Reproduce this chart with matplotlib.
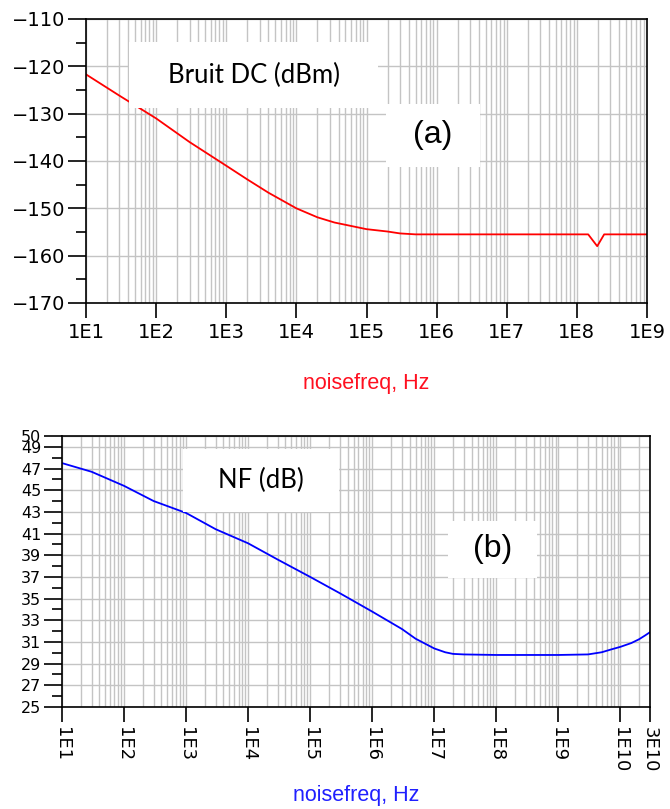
import matplotlib
matplotlib.use('Agg')
import matplotlib.pyplot as plt
from matplotlib.ticker import LogLocator, MultipleLocator, FixedLocator, NullFormatter
from matplotlib.patches import Rectangle

# data (a): bruit DC en dBm
freq_a = [1e1, 3e1, 1e2, 3e2, 1e3, 2e3, 4e3, 1e4, 2e4, 3.5e4, 1e5, 2e5, 3e5, 5e5, 1e6, 1e7,
          1.45e8, 1.95e8, 2.45e8, 1e9]
bruit_dc = [-121.7, -126.2, -131.0, -136.0, -141.0, -143.9, -146.7, -150.0, -151.9, -153.0, -154.4,
            -154.9, -155.3, -155.5, -155.5, -155.5, -155.5, -158.0, -155.5, -155.5]

# data (b): NF en dB
freq_b = [1e1, 3e1, 1e2, 3e2, 1e3, 3e3, 1e4, 3e4, 1e5, 3e5, 1e6, 3e6, 5e6, 1e7, 1.5e7, 2e7, 3e7, 1e8,
          1e9, 3e9, 5e9, 7e9, 1e10, 1.5e10, 2e10, 2.5e10, 3e10]
nf = [47.5, 46.7, 45.4, 44.0, 42.9, 41.4, 40.1, 38.6, 37.0, 35.5, 33.8, 32.2, 31.3, 30.4, 30.05, 29.9,
      29.85, 29.8, 29.8, 29.85, 30.05, 30.3, 30.55, 30.9, 31.25, 31.6, 31.9]

xticks_a = [1e1, 1e2, 1e3, 1e4, 1e5, 1e6, 1e7, 1e8, 1e9]
xlabels_a = ['1E1', '1E2', '1E3', '1E4', '1E5', '1E6', '1E7', '1E8', '1E9']
xticks_b = [1e1, 1e2, 1e3, 1e4, 1e5, 1e6, 1e7, 1e8, 1e9, 1e10, 3e10]
xlabels_b = ['1E1', '1E2', '1E3', '1E4', '1E5', '1E6', '1E7', '1E8', '1E9', '1E10', '3E10']
yticks_b = [25, 27, 29, 31, 33, 35, 37, 39, 41, 43, 45, 47, 49, 50]

W, H = 670, 809
fig = plt.figure(figsize=(W / 100, H / 100), dpi=100)


def px(x0, y0, x1, y1):
    """ pixel box -> figure fraction [left, bottom, width, height] """
    return [x0 / W, 1 - y1 / H, (x1 - x0) / W, (y1 - y0) / H]


def style(ax, fs):
    ax.grid(True, which='major', axis='y', color='#c4c4c4', lw=1)
    ax.grid(True, which='both', axis='x', color='#c4c4c4', lw=1)
    ax.set_axisbelow(True)
    for s in ax.spines.values():
        s.set_color('black')
        s.set_linewidth(1.2)
    ax.tick_params(axis='y', which='major', direction='out', length=13, width=1.2, pad=2, labelsize=fs)
    ax.tick_params(axis='y', which='minor', direction='out', length=7, width=1.2)
    ax.tick_params(axis='x', which='major', direction='out', length=11, width=1.2, labelsize=fs)
    ax.tick_params(axis='x', which='minor', length=0)
    ax.xaxis.set_minor_locator(LogLocator(base=10, subs=range(2, 10), numticks=50))
    ax.xaxis.set_minor_formatter(NullFormatter())


# (a)
ax1 = fig.add_axes(px(86, 19, 647, 303))
ax1.plot(freq_a, bruit_dc, color='#ff0000', lw=1.3)
ax1.set_xscale('log')
ax1.set_xlim(1e1, 1e9)
ax1.set_ylim(-170, -110)
style(ax1, 14)
ax1.set_xticks(xticks_a)
ax1.set_xticklabels(xlabels_a)
ax1.yaxis.set_major_locator(MultipleLocator(10))
ax1.yaxis.set_minor_locator(MultipleLocator(5))
ax1.set_xlabel('noisefreq, Hz', color='#ff1020', fontsize=15.5, family='Liberation Sans', labelpad=22)

# (b)
ax2 = fig.add_axes(px(62, 436, 650, 707))
ax2.plot(freq_b, nf, color='#0000ff', lw=1.3)
ax2.set_xscale('log')
ax2.set_xlim(1e1, 3e10)
ax2.set_ylim(25, 50)
style(ax2, 11.5)
ax2.set_xticks(xticks_b)
ax2.set_xticklabels(xlabels_b, rotation=-90, fontsize=13)
ax2.yaxis.set_major_locator(FixedLocator(yticks_b))
ax2.yaxis.set_minor_locator(MultipleLocator(1))
ax2.set_xlabel('noisefreq, Hz', color='#2020ff', fontsize=15.5, family='Liberation Sans', labelpad=9)

# boites de texte
boxes = [
    ((129, 42, 378, 108), 'Bruit DC (dBm)', 'Lato', 18.5),
    ((386, 104, 480, 167), '(a)', 'Liberation Sans', 23),
    ((183, 449, 339, 512), 'NF (dB)', 'Lato', 18.5),
    ((448, 521, 537, 578), '(b)', 'Liberation Sans', 23),
]
for (x0, y0, x1, y1), txt, fam, fs in boxes:
    l, b, w, h = px(x0, y0, x1, y1)
    fig.add_artist(Rectangle((l, b), w, h, transform=fig.transFigure,
                             facecolor='white', edgecolor='none', zorder=5))
    fig.text(l + w / 2, b + h / 2, txt, ha='center', va='center', fontsize=fs,
             family=fam, color='black', zorder=6)

fig.savefig('out.png', dpi=100)
